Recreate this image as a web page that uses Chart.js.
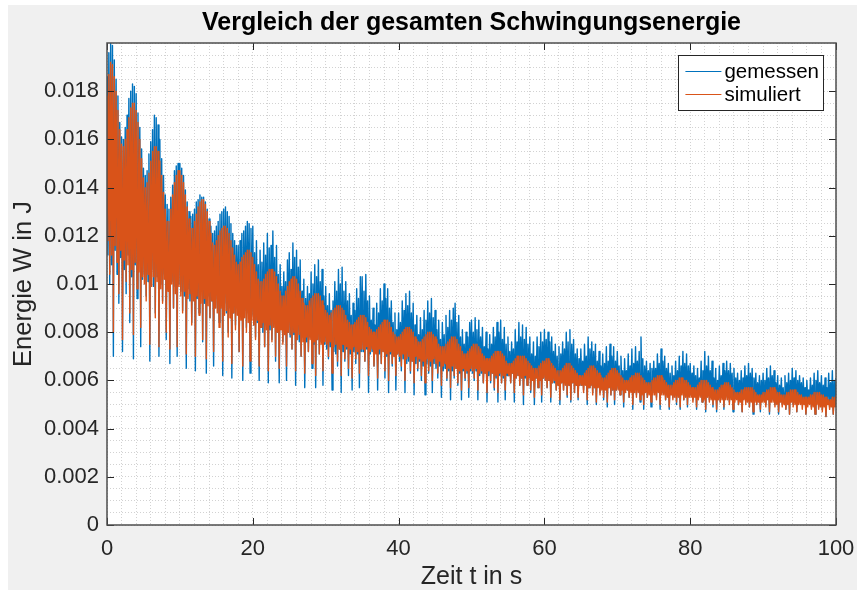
<!DOCTYPE html>
<html lang="de">
<head>
<meta charset="utf-8">
<title>Vergleich der gesamten Schwingungsenergie</title>
<script src="https://cdn.jsdelivr.net/npm/chart.js@4"></script>
<style>
  html, body { margin: 0; padding: 0; background: #fff; }
  canvas { display: block; }
</style>
</head>
<body>
<canvas id="energie" width="857" height="590"></canvas>
<script>
// Zeitachse: Abtastung in s
const tStart = 0;
const tStep = 0.125;

// Energie in 1e-4 J, abwechselnd Maximum / Minimum der schnellen Schwingung (eine Zeile = 5 s)
const gemessen = [
  186,112, 196,100, 200,108, 199,70, 193,114, 185,104, 178,92, 167,111, 161,72, 160,106, 165,96, 170,112, 177,84, 180,103, 183,69, 182,108, 179,94, 171,110, 165,74, 156,102,
  148,104, 145,95, 147,101, 154,68, 159,106, 164,99, 170,88, 169,103, 166,70, 160,100, 152,93, 145,104, 137,77, 133,98, 131,67, 136,101, 141,90, 147,99, 149,70, 150,100,
  150,97, 148,89, 145,95, 139,65, 134,98, 130,93, 128,84, 129,96, 131,64, 134,94, 135,88, 137,97, 136,76, 136,92, 134,63, 131,95, 127,86, 124,93, 121,66, 122,94,
  124,90, 126,84, 129,91, 130,62, 131,92, 132,88, 130,80, 128,90, 125,61, 121,88, 118,83, 116,91, 116,72, 118,87, 121,60, 122,89, 124,82, 126,88, 125,63, 123,87,
  124,83, 113,78, 118,84, 108,60, 114,82, 109,80, 117,74, 112,83, 121,59, 115,81, 116,77, 122,84, 111,68, 116,80, 104,59, 108,82, 99,76, 105,81, 101,60, 110,80,
  113,78, 106,73, 117,79, 111,58, 114,77, 107,76, 110,70, 97,78, 102,57, 94,76, 99,72, 96,78, 105,65, 100,75, 108,57, 103,77, 110,71, 101,76, 106,58, 95,75,
  99,73, 91,69, 96,74, 89,56, 93,72, 101,71, 97,66, 106,73, 100,55, 107,72, 97,68, 101,73, 93,62, 96,71, 87,56, 92,72, 89,67, 98,71, 94,57, 103,72,
  103,72, 97,68, 104,73, 93,55, 95,71, 85,72, 90,66, 83,72, 92,56, 88,71, 98,67, 93,72, 100,61, 94,70, 98,55, 90,71, 93,66, 84,70, 88,56, 81,71,
  88,68, 84,64, 93,69, 89,55, 96,67, 91,68, 97,63, 88,68, 92,54, 83,67, 87,64, 79,68, 86,60, 81,66, 89,54, 85,67, 93,63, 88,66, 94,55, 86,67,
  89,65, 81,61, 85,66, 77,53, 84,64, 79,65, 87,60, 82,64, 89,52, 85,64, 90,61, 92,65, 84,58, 87,63, 78,52, 81,64, 75,60, 80,63, 78,53, 84,64,
  85,63, 80,60, 86,64, 81,52, 85,62, 78,63, 82,59, 74,63, 80,51, 73,62, 79,59, 75,63, 82,56, 78,61, 84,51, 80,62, 85,59, 77,61, 82,52, 75,62,
  78,62, 72,59, 76,63, 73,51, 81,61, 76,62, 84,58, 78,61, 83,50, 77,61, 82,58, 75,62, 78,55, 71,60, 76,50, 70,61, 78,57, 74,60, 80,51, 76,61,
  81,60, 77,57, 80,60, 76,51, 78,59, 72,59, 75,56, 70,58, 74,50, 71,59, 76,56, 73,59, 80,53, 76,58, 81,51, 75,59, 77,55, 71,58, 73,52, 69,58,
  73,58, 68,56, 75,59, 70,50, 78,57, 73,58, 76,55, 72,57, 75,50, 68,58, 72,55, 66,57, 71,52, 67,57, 74,49, 68,57, 75,54, 70,56, 74,50, 68,56,
  72,57, 66,54, 70,57, 64,49, 69,56, 64,56, 71,53, 66,56, 73,48, 67,56, 74,54, 68,56, 72,51, 78,55, 69,48, 66,56, 68,53, 64,55, 67,49, 65,55,
  68,56, 65,53, 71,56, 67,48, 73,55, 68,55, 70,52, 65,55, 67,48, 63,55, 66,53, 62,55, 68,50, 64,54, 70,48, 66,55, 72,52, 67,54, 71,49, 66,54,
  67,54, 63,52, 66,54, 62,48, 65,53, 61,54, 68,51, 64,53, 72,47, 66,54, 70,52, 64,53, 68,49, 61,53, 65,47, 60,53, 66,51, 62,53, 67,48, 64,53,
  68,53, 64,51, 67,54, 63,47, 65,53, 61,53, 63,50, 60,53, 64,47, 61,53, 66,51, 62,52, 67,49, 63,52, 65,46, 61,53, 63,50, 59,52, 62,47, 60,52,
  63,52, 60,50, 65,53, 61,46, 66,52, 62,52, 64,50, 59,52, 62,46, 58,52, 61,50, 57,52, 62,48, 59,51, 63,46, 60,52, 65,50, 61,51, 64,47, 60,52,
  62,52, 59,50, 61,52, 57,46, 60,51, 56,52, 61,49, 58,51, 63,46, 60,52, 64,49, 59,51, 62,48, 58,51, 61,45, 57,52, 63,49, 59,51, 64,46, 60,51,
  61
];

const simuliert = [
  178,118, 187,104, 192,112, 191,80, 186,116, 180,109, 172,96, 164,114, 158,77, 157,110, 160,101, 164,108, 169,88, 173,106, 175,79, 175,109, 172,98, 167,105, 160,82, 152,103,
  144,100, 140,93, 142,104, 146,75, 151,99, 155,103, 157,86, 157,101, 155,74, 151,98, 145,92, 138,102, 131,80, 126,97, 126,73, 131,100, 137,90, 142,96, 145,74, 147,99,
  147,95, 145,88, 142,97, 137,71, 132,94, 127,96, 123,83, 123,93, 126,70, 129,95, 132,87, 134,92, 135,77, 135,94, 133,69, 130,91, 126,86, 121,93, 117,72, 116,90,
  118,88, 120,82, 122,90, 123,68, 124,87, 124,89, 123,78, 121,86, 118,67, 115,88, 112,81, 109,87, 108,72, 109,85, 111,66, 112,86, 113,80, 114,84, 114,68, 113,85,
  111,83, 108,77, 105,85, 102,66, 101,82, 101,84, 102,74, 104,81, 105,64, 106,83, 106,76, 106,82, 105,70, 103,80, 100,65, 97,81, 95,75, 95,79, 97,66, 99,80,
  101,79, 102,73, 103,80, 103,64, 102,77, 100,79, 97,70, 94,76, 92,63, 91,78, 91,72, 93,77, 94,67, 95,76, 96,62, 96,77, 96,71, 95,75, 93,64, 91,76,
  89,75, 88,70, 87,76, 88,63, 89,74, 90,75, 91,68, 91,73, 91,62, 90,75, 89,69, 87,74, 85,65, 84,73, 83,61, 83,74, 84,69, 85,72, 86,63, 87,73,
  87,73, 87,68, 86,74, 84,62, 82,72, 81,73, 80,66, 80,71, 81,61, 82,73, 83,67, 84,72, 85,64, 85,71, 85,60, 84,72, 82,67, 80,70, 79,62, 78,71,
  78,70, 79,66, 80,71, 81,60, 82,69, 82,70, 82,64, 81,68, 80,59, 78,70, 77,65, 76,69, 76,62, 77,68, 78,59, 79,69, 80,64, 80,68, 80,60, 79,69,
  78,67, 77,63, 75,68, 74,58, 74,66, 74,67, 75,61, 76,65, 77,57, 78,66, 78,62, 78,65, 77,59, 75,64, 74,56, 72,65, 71,61, 71,64, 72,57, 73,65,
  74,64, 75,61, 75,65, 75,56, 74,63, 73,64, 71,59, 70,63, 69,55, 69,64, 69,60, 70,63, 71,57, 72,62, 72,55, 72,63, 72,59, 71,62, 70,56, 68,63,
  67,62, 67,59, 67,63, 68,55, 69,61, 70,62, 70,58, 70,61, 70,54, 70,62, 69,58, 68,61, 67,56, 66,60, 65,53, 65,61, 65,57, 66,60, 67,54, 68,61,
  68,60, 69,57, 69,60, 68,53, 67,59, 66,60, 65,56, 64,58, 64,52, 64,59, 65,56, 66,58, 67,54, 67,58, 67,52, 66,59, 65,55, 64,58, 63,53, 62,58,
  62,58, 62,55, 63,58, 64,52, 65,57, 66,58, 66,54, 66,57, 65,51, 64,57, 63,54, 62,56, 61,53, 61,56, 62,51, 63,57, 64,54, 65,56, 65,52, 65,56,
  64,56, 63,54, 62,56, 61,51, 60,55, 60,56, 60,53, 61,55, 62,50, 62,55, 63,53, 63,55, 63,52, 62,54, 61,50, 60,55, 59,53, 59,54, 59,51, 60,54,
  61,54, 61,52, 62,55, 62,50, 62,54, 61,54, 60,52, 59,53, 58,49, 58,54, 58,52, 59,53, 60,51, 60,53, 61,49, 61,54, 61,52, 60,53, 60,50, 59,53,
  58,53, 57,51, 57,53, 57,49, 58,52, 59,53, 60,51, 60,52, 60,48, 60,53, 59,51, 58,52, 57,50, 56,52, 56,48, 56,52, 57,51, 58,52, 58,49, 59,52,
  59,52, 59,50, 58,52, 57,48, 56,51, 55,52, 55,50, 55,51, 56,47, 56,52, 57,50, 57,51, 57,49, 57,51, 57,47, 56,51, 55,50, 54,51, 54,48, 54,51,
  55,51, 55,49, 56,52, 56,47, 57,51, 57,51, 57,49, 56,50, 55,47, 55,51, 54,49, 54,50, 54,48, 55,50, 55,46, 56,51, 56,49, 56,50, 56,47, 55,50,
  54,50, 54,48, 53,50, 53,46, 53,49, 53,50, 54,48, 54,49, 55,46, 55,50, 55,48, 55,49, 54,47, 54,49, 53,45, 53,50, 52,48, 52,49, 53,46, 53,49,
  54
];

// Beschriftete Hauptteilstriche
const xTickLabels = ['0', '20', '40', '60', '80', '100'];
const yTickLabels = ['0', '0.002', '0.004', '0.006', '0.008', '0.01', '0.012', '0.014', '0.016', '0.018'];

const FONT = "'Liberation Sans', Arial, Helvetica, sans-serif";
Chart.defaults.font.family = FONT;

const toPoints = arr => arr.map((v, i) => ({ x: tStart + i * tStep, y: v * 1e-4 }));
const isMajor = (labels, v) => labels.find(l => Math.abs(Number(l) - v) < 1e-9);

// Figurenhintergrund und weisse Achsenflaeche
const background = {
  id: 'background',
  beforeDraw(chart) {
    const { ctx, width, height, chartArea: a } = chart;
    ctx.save();
    ctx.fillStyle = '#ffffff';
    ctx.fillRect(0, 0, width, height);
    ctx.fillStyle = '#f0f0f0';
    ctx.fillRect(8, 5, width - 8, height - 5);
    ctx.fillStyle = '#ffffff';
    ctx.fillRect(a.left, a.top, a.right - a.left, a.bottom - a.top);
    ctx.restore();
  }
};

// Achsenrahmen mit nach innen zeigenden Teilstrichen
const axesBox = {
  id: 'axesBox',
  afterDatasetsDraw(chart) {
    const { ctx, chartArea: a, scales } = chart;
    const len = 7;
    ctx.save();
    ctx.strokeStyle = '#262626';
    ctx.lineWidth = 1;
    ctx.beginPath();
    xTickLabels.forEach(l => {
      const px = Math.round(scales.x.getPixelForValue(Number(l))) + 0.5;
      ctx.moveTo(px, a.bottom); ctx.lineTo(px, a.bottom - len);
      ctx.moveTo(px, a.top); ctx.lineTo(px, a.top + len);
    });
    yTickLabels.forEach(l => {
      const py = Math.round(scales.y.getPixelForValue(Number(l))) + 0.5;
      ctx.moveTo(a.left, py); ctx.lineTo(a.left + len, py);
      ctx.moveTo(a.right, py); ctx.lineTo(a.right - len, py);
    });
    ctx.stroke();
    ctx.lineWidth = 1.5;
    ctx.strokeStyle = '#4d4d4d';
    ctx.strokeRect(a.left, a.top, a.right - a.left, a.bottom - a.top);
    ctx.restore();
  }
};

// Legende im Achsenfeld oben rechts
const boxLegend = {
  id: 'boxLegend',
  afterDraw(chart) {
    const { ctx, chartArea: a } = chart;
    const sets = chart.data.datasets;
    ctx.save();
    ctx.font = '20.5px ' + FONT;
    const textW = Math.max(...sets.map(d => ctx.measureText(d.label).width));
    const lineLen = 36, padL = 7, gap = 3, padR = 4, rowH = 23, boxH = 55;
    const right = a.right - 13;
    const top = a.top + 12;
    const left = right - (padL + lineLen + gap + textW + padR);
    ctx.fillStyle = '#ffffff';
    ctx.fillRect(left, top, right - left, boxH);
    ctx.strokeStyle = '#262626';
    ctx.lineWidth = 1;
    ctx.strokeRect(Math.round(left) + 0.5, top + 0.5, Math.round(right - left), boxH);
    ctx.textBaseline = 'middle';
    ctx.textAlign = 'left';
    sets.forEach((d, i) => {
      const y = top + 16 + i * rowH;
      ctx.strokeStyle = d.borderColor;
      ctx.lineWidth = 1;
      ctx.beginPath();
      ctx.moveTo(left + padL, y + 0.5);
      ctx.lineTo(left + padL + lineLen, y + 0.5);
      ctx.stroke();
      ctx.fillStyle = '#000000';
      ctx.fillText(d.label, left + padL + lineLen + gap, y + 1);
    });
    ctx.restore();
  }
};

new Chart(document.getElementById('energie'), {
  type: 'line',
  data: {
    datasets: [
      {
        label: 'gemessen',
        data: toPoints(gemessen),
        borderColor: '#0072BD',
        borderWidth: 1.4,
        borderJoinStyle: 'round',
        pointRadius: 0,
        tension: 0,
        order: 2
      },
      {
        label: 'simuliert',
        data: toPoints(simuliert),
        borderColor: '#D95319',
        borderWidth: 1.4,
        borderJoinStyle: 'round',
        pointRadius: 0,
        tension: 0,
        order: 1
      }
    ]
  },
  options: {
    responsive: false,
    animation: false,
    events: [],
    layout: { padding: { left: 0, right: 21, top: 0, bottom: 0 } },
    plugins: {
      legend: { display: false },
      tooltip: { enabled: false },
      title: {
        display: true,
        fullSize: false,
        text: 'Vergleich der gesamten Schwingungsenergie',
        color: '#000000',
        font: { size: 25, weight: 'bold', lineHeight: 1 },
        padding: { top: 11, bottom: 7 }
      }
    },
    scales: {
      x: {
        type: 'linear',
        min: 0,
        max: 100,
        afterFit: s => { s.height = 65; s.paddingLeft = 0; s.paddingRight = 0; },
        ticks: {
          stepSize: 2,
          autoSkip: false,
          maxRotation: 0,
          padding: 11,
          color: '#262626',
          font: { size: 22 },
          callback: v => isMajor(xTickLabels, v) || ''
        },
        grid: { color: '#d2d2d2', lineWidth: 1, drawTicks: false },
        border: { display: false, dash: [1, 2] },
        title: {
          display: true,
          text: 'Zeit t in s',
          color: '#262626',
          font: { size: 25, lineHeight: 1 },
          padding: 0
        }
      },
      y: {
        min: 0,
        max: 0.02,
        afterFit: s => { s.width = 107; },
        ticks: {
          stepSize: 0.0005,
          autoSkip: false,
          padding: 8,
          color: '#262626',
          font: { size: 22 },
          callback: v => isMajor(yTickLabels, v) || ''
        },
        grid: { color: '#d2d2d2', lineWidth: 1, drawTicks: false },
        border: { display: false, dash: [1, 2] },
        title: {
          display: true,
          text: 'Energie W in J',
          color: '#262626',
          font: { size: 25.5, lineHeight: 1 },
          padding: { top: 11, bottom: 0 }
        }
      }
    }
  },
  plugins: [background, axesBox, boxLegend]
});
</script>
</body>
</html>
